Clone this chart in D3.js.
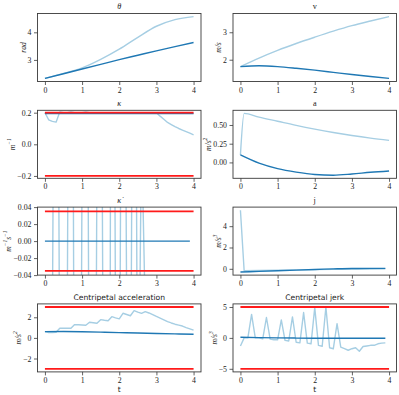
<!DOCTYPE html>
<html><head><meta charset="utf-8">
<script src="https://cdn.jsdelivr.net/npm/d3@7"></script>
<style>body{margin:0;background:#fff} svg{display:block}</style>
</head><body><svg id="c" width="399" height="395"></svg>
<script>
// ---------- data ----------
const xTicks = [0, 1, 2, 3, 4];
const tHalf = [0, 0.5, 1, 1.5, 2, 2.5, 3, 3.5, 4];
const tFine = [0,0.1,0.2,0.3,0.4,0.5,0.6,0.7,0.8,0.9,1,1.1,1.2,1.3,1.4,1.5,1.6,1.7,1.8,1.9,2,2.1,2.2,2.3,2.4,2.5,2.6,2.7,2.8,2.9,3,3.1,3.2,3.3,3.4,3.5,3.6,3.7,3.8,3.9,4];
const tDeriv = tFine.slice(0, 40);
const tA = [0, 0.1, 0.5, 1, 1.5, 2, 2.5, 3, 3.5, 4];
const tJ = [0, 0.1, 0.5, 1, 1.5, 2, 2.5, 3, 3.5, 3.9];
const tJd = [0, 0.5, 1, 1.5, 2, 2.5, 3, 3.5, 3.9];
const tEnds = [0, 4];
const tEndsD = [0, 3.9];

const thetaLight = [2.33, 2.51, 2.71, 3.02, 3.39, 3.82, 4.22, 4.46, 4.57];
const thetaDark  = [2.33, 2.5, 2.67, 2.84, 3.01, 3.17, 3.33, 3.48, 3.63];

const vLight = [1.75, 2.06, 2.34, 2.59, 2.82, 3.04, 3.24, 3.41, 3.57];
const vDark  = [1.75, 1.78, 1.75, 1.69, 1.62, 1.54, 1.46, 1.39, 1.32];

const kappaLight = [0.2,0.155,0.145,0.14,0.205,0.2,0.2,0.205,0.2,0.2,0.2,0.204,0.2,0.2,0.2,0.2,0.2,0.2,0.2,0.2,0.2,0.2,0.2,0.2,0.2,0.2,0.2,0.2,0.2,0.2,0.2,0.178,0.158,0.138,0.125,0.112,0.1,0.09,0.08,0.07,0.06];
const kappaDark = [0.195, 0.195];
const kappaLimits = [-0.2, 0.2];

const aLight = [0.1, 0.655, 0.605, 0.55, 0.495, 0.445, 0.4, 0.36, 0.325, 0.295];
const aDark  = [0.1, -0.01, -0.083, -0.13, -0.162, -0.171, -0.155, -0.132, -0.114];

const kdotLight = [-0.5,-0.1,-0.1,0.7,-0.175,-0.2,-0.1,0.9,-0.39,-0.9,0.1,0.7,-0.3,-0.9,0.1,0.5,-0.5,-1.35,0.9,-0.1,-0.3,0.7,-0.078,-0.3,0.7,-0.3,0.129,-0.086,-0.1,-0.15,-0.25,-0.2,-0.2,-0.15,-0.13,-0.12,-0.1,-0.09,-0.09,-0.08];
const kdotDark = [0, 0];
const kdotLimits = [-0.035, 0.035];

const jLight = [5.5, -0.18, -0.16, -0.13, -0.1, -0.08, -0.05, -0.03, -0.02, -0.01];
const jDark  = [-0.3, -0.24, -0.18, -0.12, -0.06, -0.01, 0.03, 0.04, 0.04];

const caLight = [0.61,0.52,0.53,0.55,0.94,0.94,0.93,0.93,1.29,1.27,1.25,1.23,1.52,1.47,1.42,1.77,1.71,1.66,2.06,1.95,1.85,2.39,2.27,2.15,2.65,2.51,2.38,2.55,2.42,2.26,2.08,1.92,1.76,1.58,1.45,1.33,1.24,1.15,1.0,0.88,0.75];
const caDark  = [0.61, 0.62, 0.6, 0.56, 0.51, 0.47, 0.43, 0.39, 0.35];
const caLimits = [-3, 3];

const cjLight = [-1.3,0,0,3.8,0,0,-0.15,3.3,-0.2,-0.3,-0.3,2.9,-0.4,-0.5,3.4,-0.7,-0.8,4.1,-0.85,-0.95,4.9,-1.2,-1.35,5.0,-1.6,-1.75,2.3,-1.5,-1.75,-2.0,-1.75,-1.6,-2.15,-1.4,-1.3,-1.2,-1.2,-0.95,-0.85,-0.8];
const cjDark  = [0.1, 0.05, 0, -0.03, -0.05, -0.06, -0.06, -0.06, -0.06];
const cjLimits = [-5, 5];

// ---------- style / layout ----------
const LB = "#a6cee3", DB = "#1f78b4", RED = "#ff1a1a";
const SERIF = "'Liberation Serif','DejaVu Serif',serif";
const SANS = "'DejaVu Sans',sans-serif";
const colX = [37.5, 233], boxW = 163.5;
const rowY = [13.5, 110.3, 207.1, 303.9], boxH = 68;

const panels = [
  {row:0,col:0,title:"θ",tFont:SERIF,tItalic:true,ylab:[["rad"]],yt:[3,4],fmt:"d",
   series:[[tHalf,thetaLight,LB,true],[tHalf,thetaDark,DB,true]]},
  {row:0,col:1,title:"v",tFont:SERIF,ylab:[["m/s"]],yt:[2,3],fmt:"d",
   series:[[tHalf,vLight,LB,true],[tHalf,vDark,DB,true]]},
  {row:1,col:0,title:"κ",tFont:SERIF,tItalic:true,ylab:[["m"],["−1",1]],yt:[-0.2,0,0.2],fmt:".1f",ylim:[-0.215,0.215],
   series:[[tFine,kappaLight,LB,false],[tEnds,kappaDark,DB,false]],limits:kappaLimits},
  {row:1,col:1,title:"a",tFont:SERIF,ylab:[["m/s"],["2",1]],yt:[0,0.25,0.5],fmt:".2f",
   series:[[tA,aLight,LB,true],[tHalf,aDark,DB,true]]},
  {row:2,col:0,title:"κ̇",tFont:SERIF,tItalic:true,ylab:[["m"],["−1",1],["s"],["−1",1]],yt:[-0.04,-0.02,0,0.02,0.04],fmt:".2f",ylim:[-0.04,0.04],
   series:[[tDeriv,kdotLight,LB,false],[tEndsD,kdotDark,DB,false]],limits:kdotLimits},
  {row:2,col:1,title:"j",tFont:SERIF,ylab:[["m/s"],["3",1]],yt:[0,2,4],fmt:"d",
   series:[[tJ,jLight,LB,false],[tJd,jDark,DB,true]]},
  {row:3,col:0,title:"Centripetal acceleration",tFont:SANS,ylab:[["m/s"],["2",1]],yt:[-2,0,2],fmt:"d",xlab:"t",
   series:[[tFine,caLight,LB,false],[tHalf,caDark,DB,true]],limits:caLimits},
  {row:3,col:1,title:"Centripetal jerk",tFont:SANS,ylab:[["m/s"],["3",1]],yt:[-5,0,5],fmt:"d",xlab:"t",
   series:[[tDeriv,cjLight,LB,false],[tJd,cjDark,DB,true]],limits:cjLimits}
];

const svg = d3.select("#c");
const defs = svg.append("defs");

panels.forEach((p, i) => {
  const x0 = colX[p.col], y0 = rowY[p.row];
  const x = d3.scaleLinear().domain([-0.2, 4.2]).range([x0, x0 + boxW]);
  let dom = p.ylim;
  if (!dom) {
    const all = [];
    p.series.forEach(s => all.push(...s[1]));
    if (p.limits) all.push(...p.limits);
    const [mn, mx] = d3.extent(all);
    const m = (mx - mn) * 0.05;
    dom = [mn - m, mx + m];
  }
  const y = d3.scaleLinear().domain(dom).range([y0 + boxH, y0]);
  const g = svg.append("g");

  defs.append("clipPath").attr("id", "clip" + i)
    .append("rect").attr("x", x0).attr("y", y0).attr("width", boxW).attr("height", boxH);
  const plot = g.append("g").attr("clip-path", `url(#clip${i})`);

  p.series.forEach(([ts, vs, color, smooth]) => {
    const line = d3.line().x((d, k) => x(ts[k])).y(d => y(d))
      .curve(smooth ? d3.curveMonotoneX : d3.curveLinear);
    plot.append("path").datum(vs).attr("d", line)
      .attr("fill", "none").attr("stroke", color).attr("stroke-width", 1.4)
      .attr("stroke-linejoin", "round");
  });
  if (p.limits) {
    p.limits.forEach(v => {
      plot.append("path").datum([v, v])
        .attr("d", d3.line().x((d, k) => x(tEnds[k])).y(d => y(d)))
        .attr("stroke", RED).attr("stroke-width", 1.8).attr("fill", "none");
    });
  }

  g.append("rect").attr("x", x0).attr("y", y0).attr("width", boxW).attr("height", boxH)
    .attr("fill", "none").attr("stroke", "#3a3a3a").attr("stroke-width", 0.9);

  const xa = g.append("g").attr("transform", `translate(0,${y0 + boxH})`)
    .call(d3.axisBottom(x).tickValues(xTicks).tickFormat(d3.format("d")).tickSize(3.5).tickPadding(2));
  const ya = g.append("g").attr("transform", `translate(${x0},0)`)
    .call(d3.axisLeft(y).tickValues(p.yt).tickFormat(d3.format(p.fmt)).tickSize(3.5).tickPadding(2.5));
  [xa, ya].forEach(a => {
    a.select(".domain").remove();
    a.selectAll("line").attr("stroke", "#3a3a3a").attr("stroke-width", 0.8);
    a.selectAll("text").attr("font-family", SERIF).attr("font-size", 7.8).attr("fill", "#222");
  });

  // title
  g.append("text").attr("x", x0 + boxW / 2).attr("y", y0 - 4.3)
    .attr("text-anchor", "middle").attr("font-family", p.tFont)
    .attr("font-style", p.tItalic ? "italic" : "normal")
    .attr("font-size", p.tFont === SANS ? 7.6 : 8.2).attr("fill", "#222").text(p.title);

  // y label (bbox is in the axis group's local coordinates)
  const bb = ya.node().getBBox();
  const lx = x0 + bb.x - 5;
  const yl = g.append("text")
    .attr("transform", `translate(${lx},${y0 + boxH / 2}) rotate(-90)`)
    .attr("text-anchor", "middle").attr("dominant-baseline", "central")
    .attr("font-family", SERIF).attr("font-style", "italic").attr("font-size", 7.6).attr("fill", "#222");
  p.ylab.forEach(([txt, sup]) => {
    const ts = yl.append("tspan").text(txt);
    if (sup) ts.attr("font-size", 5.4).attr("baseline-shift", "super");
  });

  if (p.xlab) {
    g.append("text").attr("x", x0 + boxW / 2).attr("y", y0 + boxH + 20.5)
      .attr("text-anchor", "middle").attr("font-family", SANS)
      .attr("font-size", 7.6).attr("fill", "#222").text(p.xlab);
  }
});
</script></body></html>
